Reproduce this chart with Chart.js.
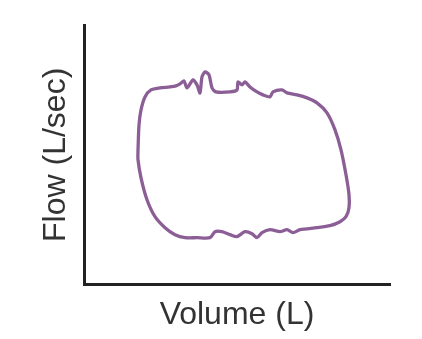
<!DOCTYPE html>
<html>
<head>
<meta charset="utf-8">
<script src="https://cdn.jsdelivr.net/npm/chart.js@4"></script>
<style>
    html, body { margin: 0; padding: 0; background: #fff; }
    #wrap { width: 422px; height: 339px; }
</style>
</head>
<body>
<div id="wrap"><canvas id="myChart" width="422" height="339"></canvas></div>
<script>
// flow-volume loop, traced clockwise from the left side
const volume = [54, 55, 57, 61, 67, 76, 86, 92, 96, 100, 103, 109, 113, 116, 118, 121, 125, 128, 132, 146,
    153, 154, 158, 161, 166, 173, 179, 186, 189, 198, 203, 213, 223, 233, 243, 251, 257, 262, 265, 265,
    262, 256, 246, 233, 216, 209, 203, 196, 186, 178, 173, 168, 161, 153, 146, 138, 131, 126, 113, 101,
    91, 81, 71, 63, 57, 54, 54]
const flow = [135, 160, 175, 188, 195, 197, 198, 199, 201, 204, 197, 205, 200, 192, 208, 213, 210, 197, 193, 193,
    195, 203, 200, 203, 198, 193, 190, 188, 193, 195, 192, 190, 187, 182, 172, 155, 135, 110, 90, 77,
    68, 63, 59, 57, 55, 52, 55, 53, 55, 52, 47, 51, 53, 48, 50, 53, 53, 47, 47, 47,
    50, 57, 68, 85, 107, 125, 135]

const xTitle = 'Volume (L)'
const yTitle = 'Flow (L/sec)'

const points = volume.map((v, i) => ({ x: v, y: flow[i] }))

const titleFont = { family: 'Liberation Sans, Arial, sans-serif', size: 32 }

const ctx = document.getElementById('myChart').getContext('2d')
const chart = new Chart(ctx, {
    type: 'scatter',
    data: {
        datasets: [{
            data: points,
            showLine: true,
            borderColor: '#8c5e96',
            borderWidth: 3.3,
            pointRadius: 0,
            tension: 0.25,
            fill: false
        }]
    },
    options: {
        responsive: false,
        animation: false,
        layout: {
            padding: { top: 25, right: 32, left: 18, bottom: 0 }
        },
        plugins: {
            legend: { display: false },
            tooltip: { enabled: false }
        },
        scales: {
            x: {
                min: 0,
                max: 306,
                ticks: { display: false },
                grid: { display: false, drawTicks: false },
                border: { color: '#222', width: 3 },
                title: {
                    display: true,
                    text: xTitle,
                    color: '#333',
                    font: titleFont,
                    padding: { top: 11, bottom: 5 }
                }
            },
            y: {
                min: 0,
                max: 260,
                ticks: { display: false },
                grid: { display: false, drawTicks: false },
                border: { color: '#222', width: 3 },
                title: {
                    display: true,
                    text: yTitle,
                    color: '#333',
                    font: titleFont,
                    padding: { top: 19, bottom: 8.6 }
                }
            }
        }
    }
})
</script>
</body>
</html>
